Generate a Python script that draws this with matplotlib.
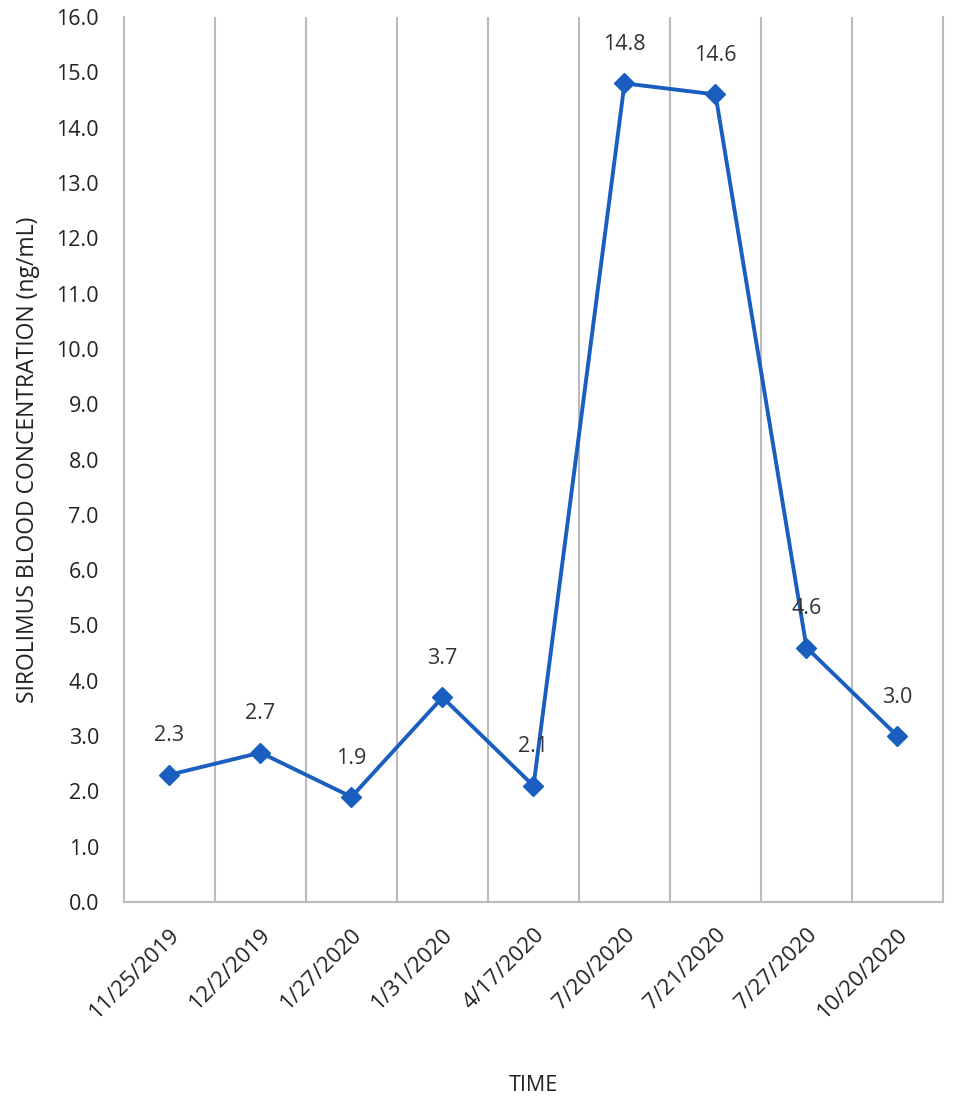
import numpy as np
import matplotlib.pyplot as plt

dates = ["11/25/2019", "12/2/2019", "1/27/2020", "1/31/2020", "4/17/2020",
         "7/20/2020", "7/21/2020", "7/27/2020", "10/20/2020"]
conc = [2.3, 2.7, 1.9, 3.7, 2.1, 14.8, 14.6, 4.6, 3.0]

plt.rcParams['font.family'] = ['Open Sans', 'DejaVu Sans']

fig = plt.figure(figsize=(9.54, 11.06), dpi=100)
ax = fig.add_axes([124 / 954, 1 - 902 / 1106, (943 - 124) / 954, (902 - 17) / 1106])

x = np.arange(len(dates))
ax.plot(x, conc, color='#1a5fbf', lw=2.8, marker='D', ms=10, zorder=3)

for xi, v in zip(x, conc):
    ax.annotate(f"{v:.1f}", (xi, v), xytext=(0, 28), textcoords='offset points',
                ha='center', va='center', fontsize=15.5, color='#333333')

ax.set_xlim(-0.5, len(dates) - 0.5)
ax.set_ylim(0, 16)
yt = np.arange(0, 17, 1.0)
ax.set_yticks(yt)
ax.set_yticklabels([f"{t:.1f}" for t in yt], fontsize=15.5, color='#222222')

ax.set_xticks(x)
ax.set_xticklabels(dates, rotation=45, ha='right', rotation_mode='anchor',
                   fontsize=16, color='#222222')
ax.tick_params(axis='y', length=0, pad=18)
ax.tick_params(axis='x', length=0, pad=16)

# category separators
for b in np.arange(0.5, len(dates) - 0.5, 1):
    ax.axvline(b, color='#bbbbbb', lw=1.5, zorder=1)

for s in ['left', 'right', 'bottom']:
    ax.spines[s].set_color('#bbbbbb')
    ax.spines[s].set_linewidth(1.5)
ax.spines['top'].set_visible(False)

ax.set_ylabel("SIROLIMUS BLOOD CONCENTRATION (ng/mL)", fontsize=16.5, color='#222222', labelpad=12)
ax.set_xlabel("TIME", fontsize=15.5, color='#222222', labelpad=38)

fig.savefig("out.png", dpi=100)
